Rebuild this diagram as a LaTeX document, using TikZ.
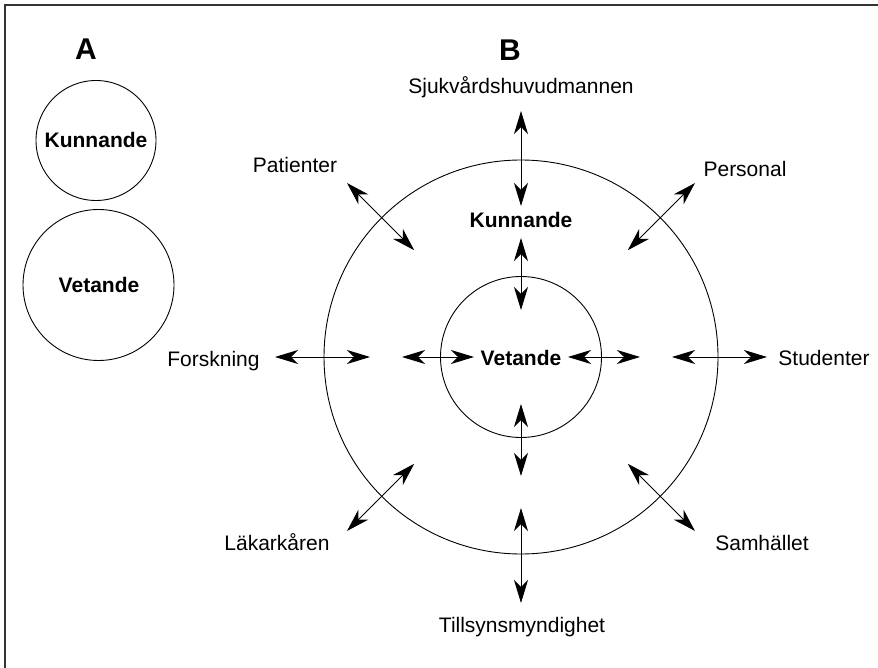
\documentclass[tikz,border=0pt]{standalone}
\usepackage{fontspec}
\setmainfont{Liberation Sans}
\usetikzlibrary{arrows.meta,calc}
\tikzset{
  dbl/.style={line width=1pt,{Stealth[length=23pt,width=14pt,inset=7pt]}-{Stealth[length=23pt,width=14pt,inset=7pt]}},
  ring/.style={circle,draw,line width=0.9pt,inner sep=0pt},
  lbl/.style={anchor=base,inner sep=0pt,font=\fontsize{21}{25}\selectfont},
  blbl/.style={lbl,font=\fontsize{21}{25}\selectfont\bfseries},
  big/.style={anchor=base,inner sep=0pt,font=\fontsize{30}{34}\selectfont\bfseries},
  frame/.style={line width=1.2pt,black!80}
}
\begin{document}
\begin{tikzpicture}[x=1pt,y=-1pt]
\useasboundingbox (0,0) rectangle (878,668);
% frame (only top and left visible)
\coordinate (fr1) at (878,5);
\coordinate (fr2) at (5,5);
\coordinate (fr3) at (5,668);
\draw[frame] (fr1) -- (fr2) -- (fr3);

% Part A
\node[big] (A) at (86,60) {A};
\node[ring,minimum size=120pt] (aK) at (96,140.5) {};
\node[ring,minimum size=151pt] (aV) at (98.5,285) {};
\node[blbl] (aKt) at (96,148) {Kunnande};
\node[blbl] (aVt) at (99,293) {Vetande};

% Part B
\node[big] (B) at (510,60.7) {B};
\coordinate (c) at (521,357);
\node[ring,minimum size=394pt] (outer) at (c) {};
\node[ring,minimum size=161pt] (inner) at (c) {};
\node[blbl] (bK) at (521,228) {Kunnande};
\node[blbl] (bV) at (521,365) {Vetande};

% outer arrows
\foreach \a in {0,45,...,315} {
  \coordinate (oi\a) at ($(c)+(\a:151)$);
  \coordinate (oo\a) at ($(c)+(\a:246)$);
  \draw[dbl] (oi\a) -- (oo\a);
}
% inner arrows
\foreach \a in {0,90,180,270} {
  \coordinate (ii\a) at ($(c)+(\a:47)$);
  \coordinate (io\a) at ($(c)+(\a:119)$);
  \draw[dbl] (ii\a) -- (io\a);
}

% labels
\node[lbl] (l1) at (521,94) {Sjukvårdshuvudmannen};
\node[lbl] (l2) at (295,173) {Patienter};
\node[lbl] (l3) at (745,177) {Personal};
\node[lbl] (l4) at (213.5,366) {Forskning};
\node[lbl] (l5) at (824,365) {Studenter};
\node[lbl] (l6) at (277,550) {Läkarkåren};
\node[lbl] (l7) at (762,550) {Samhället};
\node[lbl] (l8) at (522,632) {Tillsynsmyndighet};
\end{tikzpicture}
\end{document}
